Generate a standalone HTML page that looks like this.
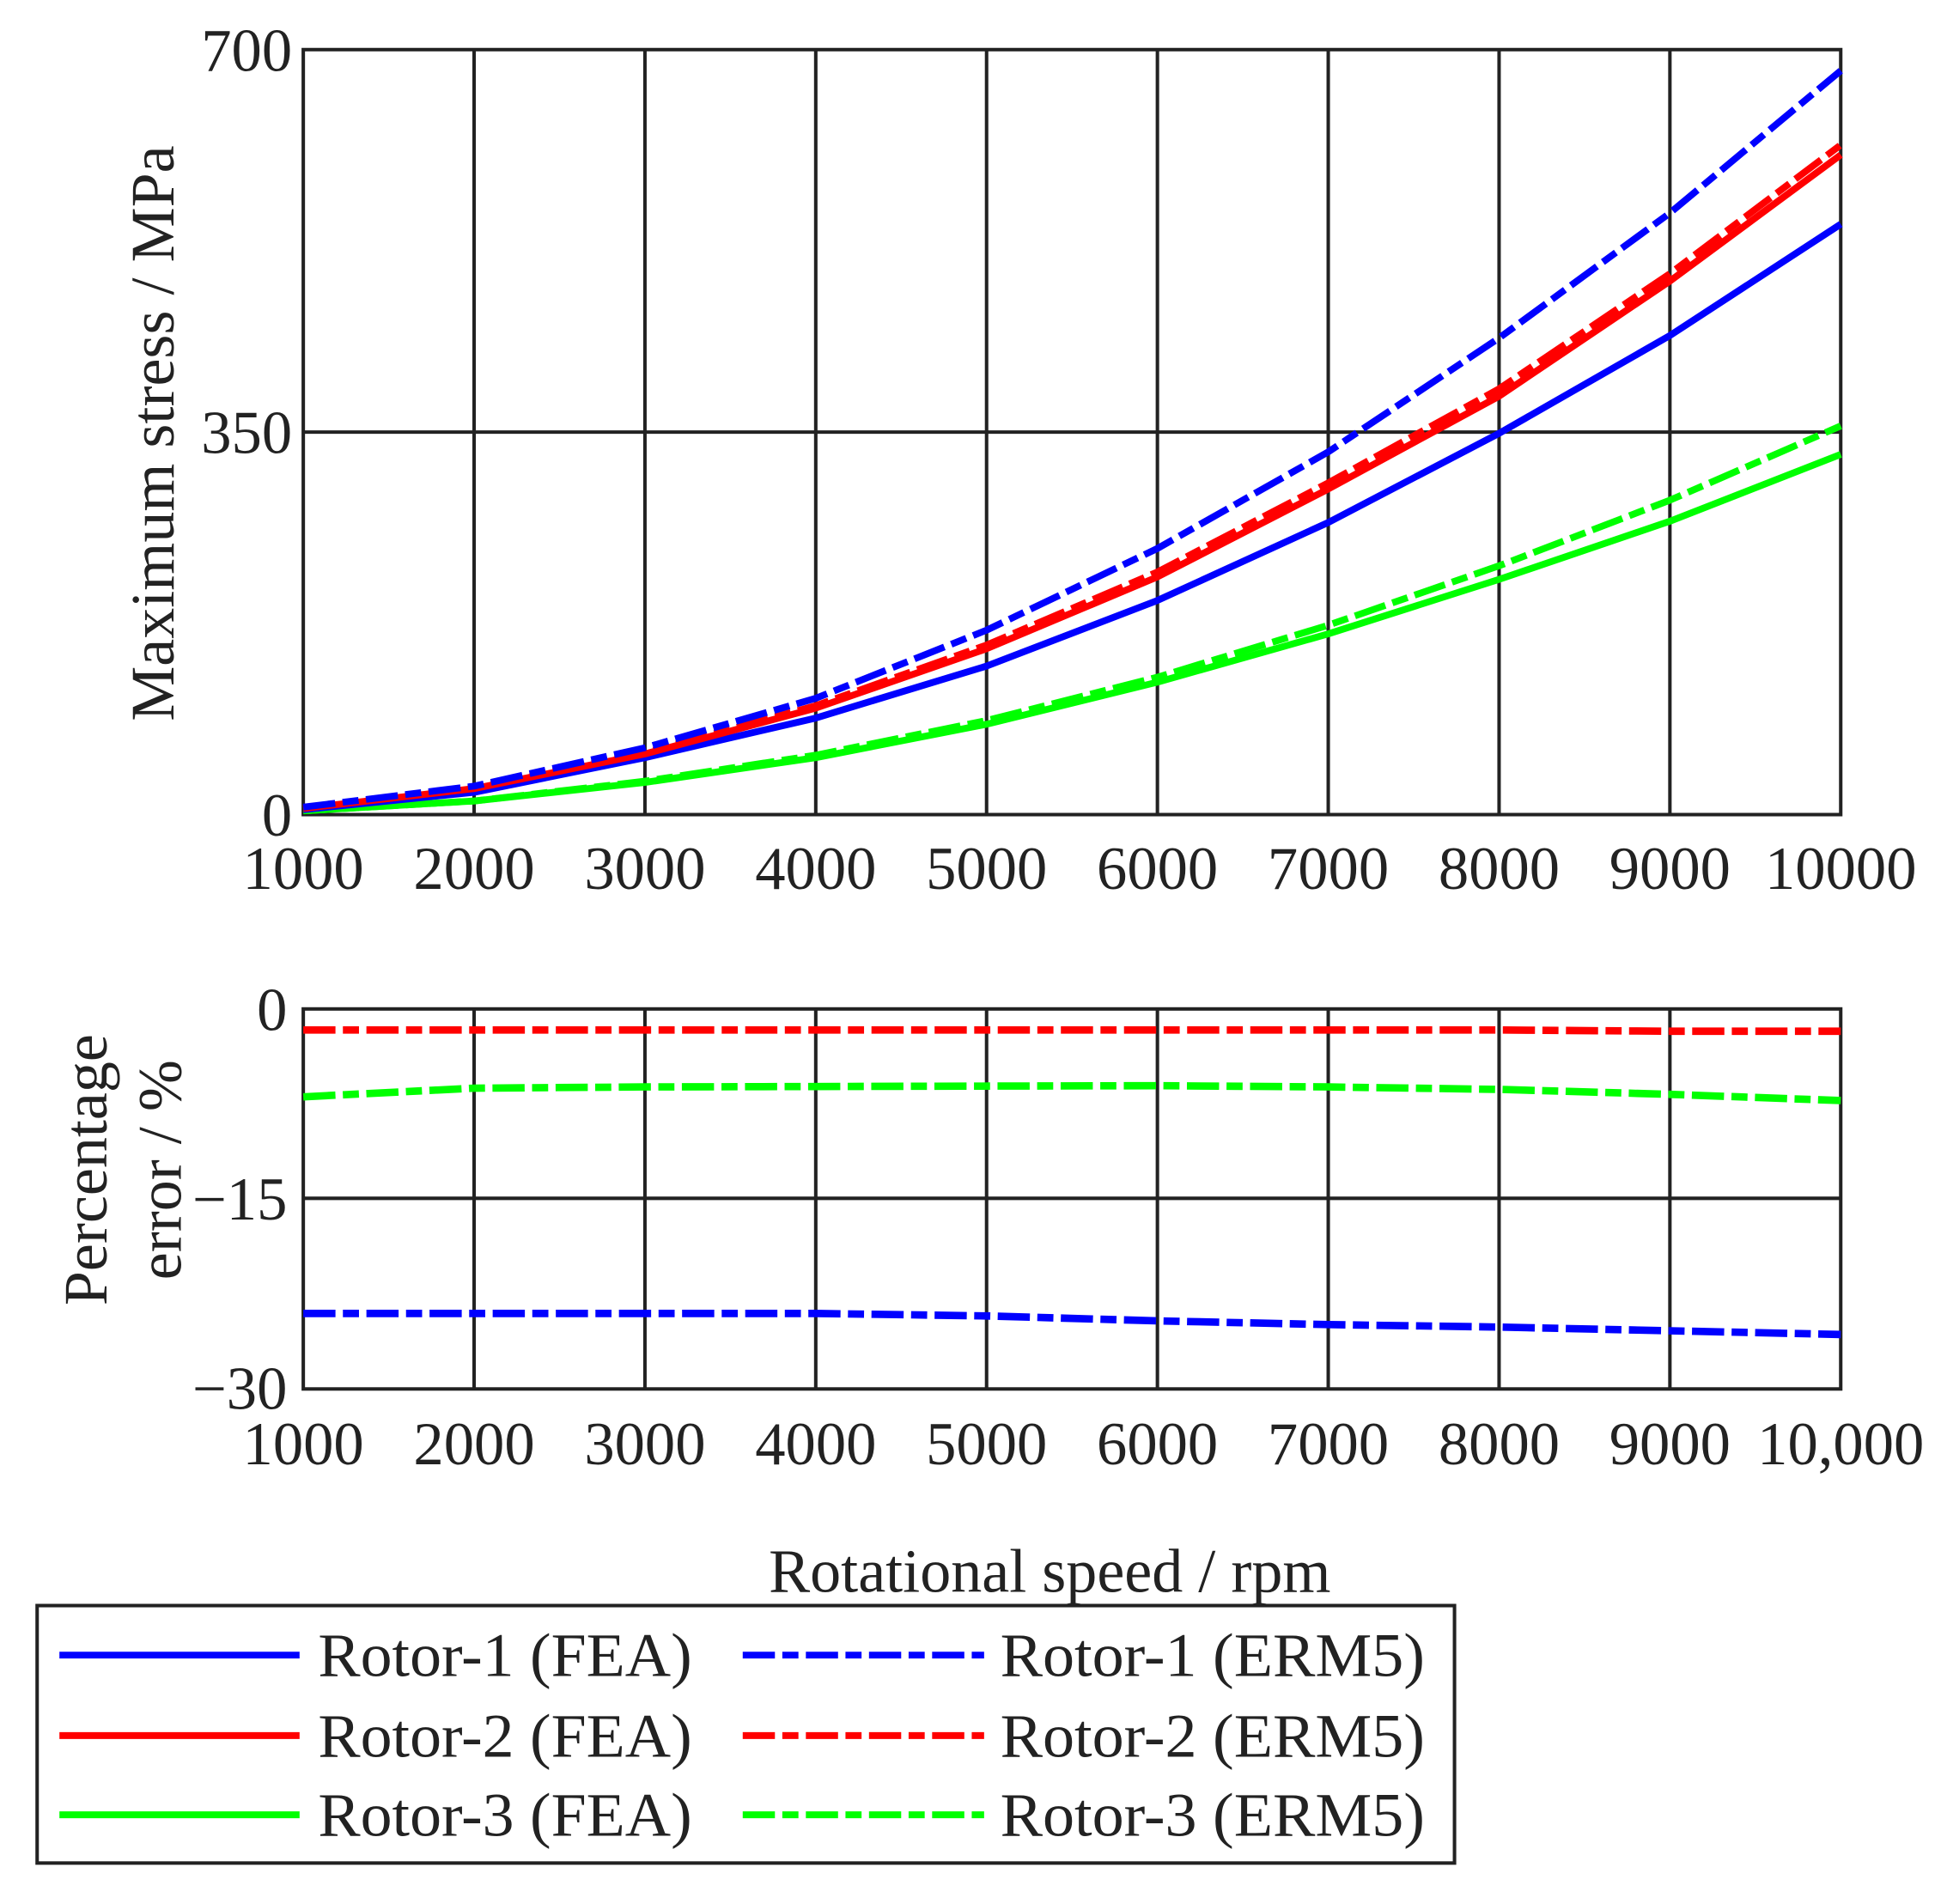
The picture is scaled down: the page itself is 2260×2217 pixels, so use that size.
<!DOCTYPE html>
<html><head><meta charset="utf-8"><style>
html,body{margin:0;padding:0;background:#fff}
svg{display:block}
text{font-family:"Liberation Serif",serif;fill:#222}
</style></head><body>
<svg width="2260" height="2217" viewBox="0 0 1568 1538" xmlns="http://www.w3.org/2000/svg">
<g stroke="#222" stroke-width="2.8" fill="none">
<path d="M383 40V658M521 40V658M659 40V658M797 40V658M935 40V658M1073 40V658M1211 40V658M1349 40V658M245 349H1487"/>
<rect x="245" y="40" width="1242" height="618"/>
<path d="M383 815V1122M521 815V1122M659 815V1122M797 815V1122M935 815V1122M1073 815V1122M1211 815V1122M1349 815V1122M245 968H1487"/>
<rect x="245" y="815" width="1242" height="307"/>
</g>
<g fill="none" stroke-width="5.5" stroke-linejoin="round">
<polyline stroke="#00ff00" points="245,655 383,647 521,632 659,612 797,585 935,551 1073,512 1211,468 1349,421 1487,367"/>
<polyline stroke="#00ff00" stroke-dasharray="26 6 13 6" points="245,655 383,647 521,631 659,610 797,582 935,547 1073,505 1211,457 1349,404 1487,344"/>
<polyline stroke="#0000ff" points="245,654 383,640 521,612 659,580 797,538 935,485 1073,422 1211,350 1349,271 1487,181"/>
<polyline stroke="#ff0000" points="245,653 383,637 521,609 659,572 797,524 935,466 1073,395 1211,320 1349,227 1487,125"/>
<polyline stroke="#ff0000" stroke-dasharray="26 6 13 6" points="245,653 383,636 521,608 659,570 797,521 935,462 1073,390 1211,314 1349,221 1487,117"/>
<polyline stroke="#0000ff" stroke-dasharray="26 6 13 6" points="245,652 383,635 521,604 659,564 797,509 935,443 1073,365 1211,273 1349,172 1487,57"/>
</g>
<g fill="none" stroke-width="6">
<polyline stroke="#ff0000" stroke-dasharray="26 6 13 6" points="245,832 1211,832 1349,833 1487,833"/>
<polyline stroke="#00ff00" stroke-dasharray="26 6 13 6" points="245,886 383,879 521,878 935,877 1073,878 1211,880 1349,884 1487,889"/>
<polyline stroke="#0000ff" stroke-dasharray="26 6 13 6" points="245,1061 659,1061 797,1063 935,1067 1073,1070 1211,1072 1349,1075 1487,1078"/>
</g>
<g font-size="49" text-anchor="end">
<text x="236" y="57">700</text><text x="236" y="366">350</text><text x="236" y="675">0</text>
<text x="232" y="832">0</text><text x="232" y="985">−15</text><text x="232" y="1138">−30</text>
</g>
<g font-size="49" text-anchor="middle">
<text x="245" y="718">1000</text><text x="383" y="718">2000</text><text x="521" y="718">3000</text><text x="659" y="718">4000</text><text x="797" y="718">5000</text><text x="935" y="718">6000</text><text x="1073" y="718">7000</text><text x="1211" y="718">8000</text><text x="1349" y="718">9000</text><text x="1487" y="718">10000</text>
<text x="245" y="1183">1000</text><text x="383" y="1183">2000</text><text x="521" y="1183">3000</text><text x="659" y="1183">4000</text><text x="797" y="1183">5000</text><text x="935" y="1183">6000</text><text x="1073" y="1183">7000</text><text x="1211" y="1183">8000</text><text x="1349" y="1183">9000</text><text x="1487" y="1183">10,000</text>
<text x="848" y="1286" font-size="50">Rotational speed / rpm</text>
<text transform="translate(140,350) rotate(-90)" font-size="50">Maximum stress / MPa</text>
<text transform="translate(86,945) rotate(-90)" font-size="50">Percentage</text>
<text transform="translate(146,945) rotate(-90)" font-size="50">error / %</text>
</g>
<rect x="30" y="1297" width="1145" height="208" fill="none" stroke="#222" stroke-width="2.8"/>
<g stroke-width="5.5">
<line x1="48" y1="1337" x2="242" y2="1337" stroke="#0000ff"/>
<line x1="48" y1="1402" x2="242" y2="1402" stroke="#ff0000"/>
<line x1="48" y1="1466" x2="242" y2="1466" stroke="#00ff00"/>
<line x1="600" y1="1337" x2="795" y2="1337" stroke="#0000ff" stroke-dasharray="26 6 13 6"/>
<line x1="600" y1="1402" x2="795" y2="1402" stroke="#ff0000" stroke-dasharray="26 6 13 6"/>
<line x1="600" y1="1466" x2="795" y2="1466" stroke="#00ff00" stroke-dasharray="26 6 13 6"/>
</g>
<g font-size="50">
<text x="257" y="1354" textLength="302" lengthAdjust="spacingAndGlyphs">Rotor-1 (FEA)</text>
<text x="257" y="1419" textLength="302" lengthAdjust="spacingAndGlyphs">Rotor-2 (FEA)</text>
<text x="257" y="1483" textLength="302" lengthAdjust="spacingAndGlyphs">Rotor-3 (FEA)</text>
<text x="808" y="1354" textLength="343" lengthAdjust="spacingAndGlyphs">Rotor-1 (ERM5)</text>
<text x="808" y="1419" textLength="343" lengthAdjust="spacingAndGlyphs">Rotor-2 (ERM5)</text>
<text x="808" y="1483" textLength="343" lengthAdjust="spacingAndGlyphs">Rotor-3 (ERM5)</text>
</g>
</svg>
</body></html>
